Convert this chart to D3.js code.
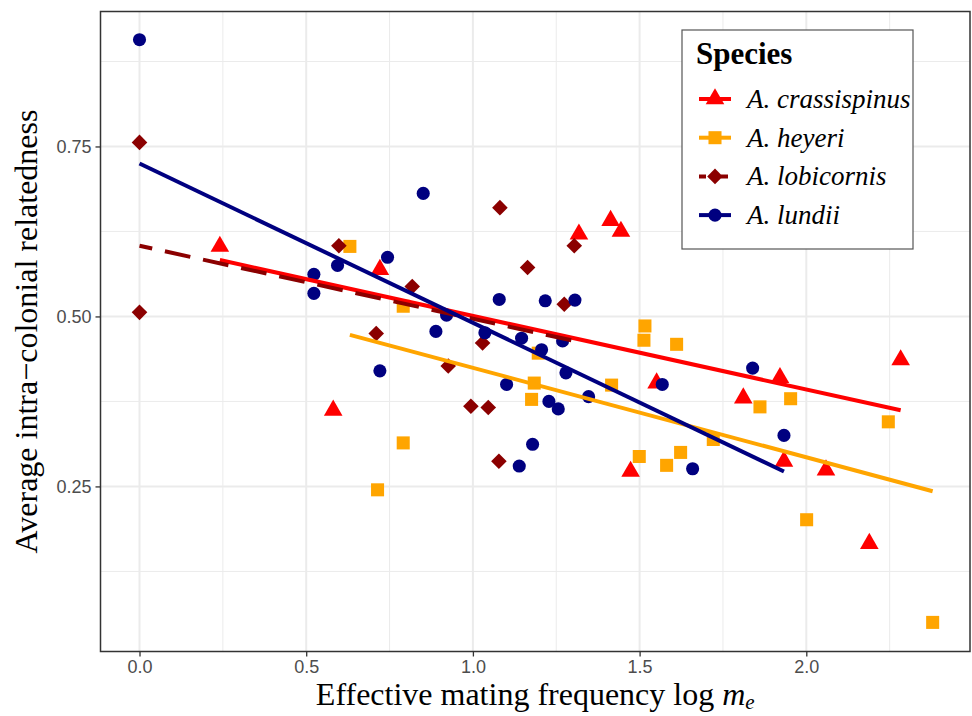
<!DOCTYPE html>
<html>
<head>
<meta charset="utf-8">
<script src="https://cdn.jsdelivr.net/npm/d3@7"></script>
<style>
  body { margin: 0; background: #fff; }
</style>
</head>
<body>
<div class="canvas"></div>
<script>
// species, colours and fitted lm lines
const species = ["A. crassispinus", "A. heyeri", "A. lobicornis", "A. lundii"];
const colours = ["#FF0000", "#FFA500", "#8B0000", "#000080"];
const shapes = ["triangle", "square", "diamond", "circle"];
const intercepts = [0.609, 0.556, 0.604, 0.725];
const slopes = [-0.1082, -0.1316, -0.1074, -0.2344];

// points per species: x = log m_e, y = relatedness
const crassX = [0.241, 0.581, 0.721, 1.318, 1.413, 1.444, 1.473, 1.551, 1.811, 1.921, 1.933, 2.059, 2.189, 2.283];
const crassY = [0.603, 0.362, 0.569, 0.621, 0.641, 0.625, 0.272, 0.402, 0.380, 0.410, 0.287, 0.274, 0.166, 0.436];

const heyeriX = [0.631, 0.714, 0.791, 0.791, 1.176, 1.184, 1.196, 1.416, 1.499, 1.513, 1.516, 1.581, 1.611, 1.623, 1.721, 1.861, 1.953, 2.001, 2.246, 2.379];
const heyeriY = [0.603, 0.245, 0.515, 0.314, 0.378, 0.402, 0.446, 0.399, 0.294, 0.465, 0.486, 0.281, 0.459, 0.300, 0.319, 0.367, 0.379, 0.201, 0.345, 0.050];

const lobiX = [0, 0, 0.598, 0.710, 0.818, 0.926, 0.994, 1.029, 1.046, 1.078, 1.081, 1.164, 1.274, 1.304];
const lobiY = [0.756, 0.506, 0.604, 0.475, 0.544, 0.427, 0.368, 0.461, 0.366, 0.287, 0.660, 0.572, 0.518, 0.604];

const lundiiX = [0, 0.523, 0.523, 0.594, 0.721, 0.744, 0.851, 0.889, 0.921, 1.036, 1.079, 1.101, 1.139, 1.146, 1.179, 1.206, 1.217, 1.228, 1.256, 1.269, 1.279, 1.306, 1.347, 1.568, 1.659, 1.839, 1.933];
const lundiiY = [0.907, 0.562, 0.534, 0.575, 0.420, 0.587, 0.681, 0.478, 0.502, 0.476, 0.525, 0.400, 0.280, 0.468, 0.312, 0.451, 0.523, 0.375, 0.364, 0.464, 0.417, 0.524, 0.382, 0.400, 0.276, 0.424, 0.325];

const xTicks = [0, 0.5, 1.0, 1.5, 2.0];
const xMinor = [0.25, 0.75, 1.25, 1.75, 2.25];
const yTicks = [0.25, 0.5, 0.75];
const yMinor = [0.125, 0.375, 0.625, 0.875];

const width = 972, height = 716;
const margin = { top: 11.5, right: 2, bottom: 64.5, left: 100.5 };
const graphWidth = width - margin.left - margin.right;
const graphHeight = height - margin.top - margin.bottom;

const svg = d3.select(".canvas")
    .append("svg")
    .attr("width", width)
    .attr("height", height);

const graph = svg.append("g")
    .attr("transform", `translate(${margin.left}, ${margin.top})`);

const x = d3.scaleLinear().domain([-0.117, 2.491]).range([0, graphWidth]);
const y = d3.scaleLinear().domain([0.0072, 0.9485]).range([graphHeight, 0]);

// grid
graph.selectAll(".minorx").data(xMinor).enter().append("line")
    .attr("x1", d => x(d)).attr("x2", d => x(d))
    .attr("y1", 0).attr("y2", graphHeight)
    .attr("stroke", "#EBEBEB").attr("stroke-width", 1);
graph.selectAll(".minory").data(yMinor).enter().append("line")
    .attr("y1", d => y(d)).attr("y2", d => y(d))
    .attr("x1", 0).attr("x2", graphWidth)
    .attr("stroke", "#EBEBEB").attr("stroke-width", 1);
graph.selectAll(".majorx").data(xTicks).enter().append("line")
    .attr("x1", d => x(d)).attr("x2", d => x(d))
    .attr("y1", 0).attr("y2", graphHeight)
    .attr("stroke", "#EBEBEB").attr("stroke-width", 2);
graph.selectAll(".majory").data(yTicks).enter().append("line")
    .attr("y1", d => y(d)).attr("y2", d => y(d))
    .attr("x1", 0).attr("x2", graphWidth)
    .attr("stroke", "#EBEBEB").attr("stroke-width", 2);

// symbols
const symbolPath = (shape) => {
    switch (shape) {
        case "triangle": return d3.symbol(d3.symbolTriangle, 150)();
        case "square": return d3.symbol(d3.symbolSquare, 170)();
        case "circle": return d3.symbol(d3.symbolCircle, 135)();
        case "diamond": return "M0,-7.8L7.8,0L0,7.8L-7.8,0Z";
        default: return "";
    }
};

const groups = [
    { xs: crassX, ys: crassY },
    { xs: heyeriX, ys: heyeriY },
    { xs: lobiX, ys: lobiY },
    { xs: lundiiX, ys: lundiiY }
];

groups.forEach((g, i) => {
    const pts = g.xs.map((v, j) => ({ x: v, y: g.ys[j] }));
    graph.selectAll(`.pt${i}`).data(pts).enter().append("path")
        .attr("d", symbolPath(shapes[i]))
        .attr("transform", d => `translate(${x(d.x)}, ${y(d.y)})`)
        .attr("fill", colours[i]);
});

// fitted lines over each species' range
const line = d3.line().x(d => x(d[0])).y(d => y(d[1]));
groups.forEach((g, i) => {
    const ext = d3.extent(g.xs);
    const seg = ext.map(v => [v, intercepts[i] + slopes[i] * v]);
    graph.append("path")
        .attr("d", line(seg))
        .attr("fill", "none")
        .attr("stroke", colours[i])
        .attr("stroke-width", 4)
        .attr("stroke-dasharray", shapes[i] === "diamond" ? "26,13" : null)
        .attr("stroke-dashoffset", shapes[i] === "diamond" ? 13 : null);
});

// border
graph.append("rect")
    .attr("width", graphWidth).attr("height", graphHeight)
    .attr("fill", "none").attr("stroke", "#333333").attr("stroke-width", 1.5);

// axes
const xAxis = d3.axisBottom(x).tickValues(xTicks).tickFormat(d3.format(".1f")).tickSize(5);
const yAxis = d3.axisLeft(y).tickValues(yTicks).tickFormat(d3.format(".2f")).tickSize(5);
const xAxisGroup = graph.append("g").attr("transform", `translate(0, ${graphHeight})`).call(xAxis);
const yAxisGroup = graph.append("g").call(yAxis);
[xAxisGroup, yAxisGroup].forEach(a => {
    a.select(".domain").remove();
    a.selectAll("line").attr("stroke", "#333333").attr("stroke-width", 1.3);
    a.selectAll("text")
        .attr("fill", "#4D4D4D")
        .style("font-family", "'Liberation Sans', Arial, sans-serif")
        .style("font-size", "18px");
});
xAxisGroup.selectAll("text").attr("dy", "0.75em");
yAxisGroup.selectAll("text").attr("dx", "-0.05em");

// axis titles
const serif = "'Liberation Serif', 'Times New Roman', serif";
const xTitle = svg.append("text")
    .attr("x", margin.left + graphWidth / 2)
    .attr("y", 705)
    .attr("text-anchor", "middle")
    .style("font-family", serif)
    .style("font-size", "32px");
xTitle.append("tspan").text("Effective mating frequency log ");
xTitle.append("tspan").attr("font-style", "italic").text("m");
xTitle.append("tspan").attr("font-style", "italic").attr("font-size", "21px").attr("dy", 4).text("e");

svg.append("text")
    .attr("transform", `translate(37, ${margin.top + graphHeight / 2}) rotate(-90)`)
    .attr("text-anchor", "middle")
    .style("font-family", serif)
    .style("font-size", "32px")
    .text("Average intra\u2212colonial relatedness");

// legend
const legend = svg.append("g").attr("transform", "translate(682, 30)");
legend.append("rect")
    .attr("width", 231).attr("height", 219)
    .attr("fill", "#fff").attr("stroke", "#555").attr("stroke-width", 1.2);
legend.append("text")
    .attr("x", 14).attr("y", 34)
    .style("font-family", serif).style("font-size", "31px").style("font-weight", "bold")
    .text("Species");
species.forEach((s, i) => {
    const cy = 69 + i * 38.7;
    const row = legend.append("g");
    row.append("line")
        .attr("x1", 17).attr("x2", 49).attr("y1", cy).attr("y2", cy)
        .attr("stroke", colours[i]).attr("stroke-width", 4)
        .attr("stroke-dasharray", shapes[i] === "diamond" ? "7,4" : null);
    row.append("path")
        .attr("d", symbolPath(shapes[i]))
        .attr("transform", `translate(33, ${cy})`)
        .attr("fill", colours[i]);
    row.append("text")
        .attr("x", 65).attr("y", cy + 9)
        .style("font-family", serif).style("font-size", "27px").style("font-style", "italic")
        .text(s);
});
</script>
</body>
</html>
